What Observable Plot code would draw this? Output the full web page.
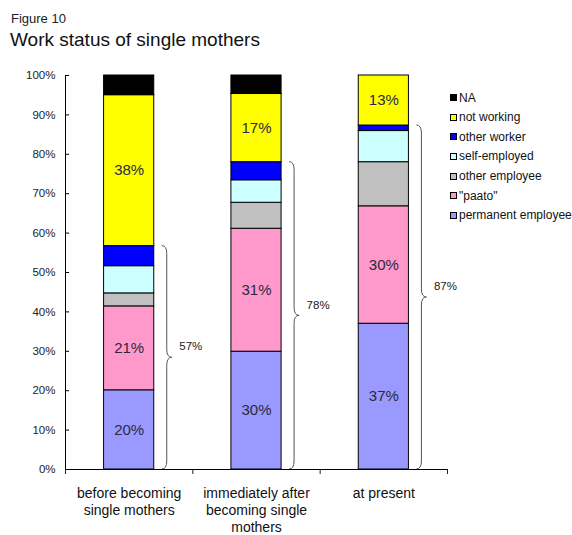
<!DOCTYPE html>
<html><head><meta charset="utf-8">
<script src="https://cdn.jsdelivr.net/npm/d3@7"></script>
<script src="https://cdn.jsdelivr.net/npm/@observablehq/plot@0.6"></script>
<style>
body{margin:0;background:#fff;font-family:Arial,"Liberation Sans",sans-serif;color:#000}
#wrap{position:relative;width:572px;height:535px;overflow:hidden;background:#fff}
.abs{position:absolute;white-space:nowrap}
.item{position:absolute;left:0;height:14px;line-height:14px;font-size:12px;display:flex;align-items:center;color:#111}
.sw{width:5px;height:5px;border:1px solid #000;margin-right:2px;flex:none}
</style></head><body>
<div id="wrap">
 <div class="abs" style="left:11px;top:12px;font-size:13px;line-height:1;color:#222">Figure 10</div>
 <div class="abs" style="left:10px;top:30px;font-size:19px;line-height:1;color:#111">Work status of single mothers</div>
 <div id="chart" class="abs" style="left:0;top:55px"></div>
 <div id="legend" class="abs" style="left:450px;top:0"></div>
</div>
<script>
// ---- data ----
const periods = ["before becoming single mothers", "immediately after becoming single mothers", "at present"];
const periodLabels = ["before becoming\nsingle mothers", "immediately after\nbecoming single\nmothers", "at present"];
const statuses = ["permanent employee", "\"paato\"", "other employee", "self-employed", "other worker", "not working", "NA"];
const colors = ["#9999FF", "#FF99CC", "#C0C0C0", "#CCFFFF", "#0000FF", "#FFFF00", "#000000"];
const permanentEmployee = [20.1, 29.9, 37.0];
const paato = [21.3, 31.2, 29.8];
const otherEmployee = [3.3, 6.6, 11.2];
const selfEmployed = [6.9, 5.7, 7.9];
const otherWorker = [5.1, 4.6, 1.4];
const notWorking = [38.3, 17.3, 12.7];
const na = [5.0, 4.7, 0.0];
const yTicks = [0, 10, 20, 30, 40, 50, 60, 70, 80, 90, 100];
const labelledStatuses = ["permanent employee", "\"paato\"", "not working"];
const workingStatuses = ["permanent employee", "\"paato\"", "other employee", "self-employed", "other worker"];

// ---- build table ----
const series = [permanentEmployee, paato, otherEmployee, selfEmployed, otherWorker, notWorking, na];
const rows = [];
periods.forEach((p, i) => {
  let acc = 0;
  statuses.forEach((s, k) => {
    const v = series[k][i];
    rows.push({i, period: p, status: s, value: v, y1: acc, y2: acc + v});
    acc += v;
  });
});
const braceRows = periods.map((p, i) => ({
  i, period: p,
  total: d3.sum(rows.filter(r => r.i === i && workingStatuses.includes(r.status)), r => r.value)
}));

const halfBar = 0.197;

function braces(index, scales) {
  const g = d3.create("svg:g").attr("fill", "none").attr("stroke", "#555").attr("stroke-width", 1);
  for (const b of braceRows) {
    const x = scales.x(b.i + 0.5 + halfBar) + 8;
    const w = 10, r = 8, xm = x + w / 2;
    const top = scales.y(b.total), bot = scales.y(0), mid = (top + bot) / 2;
    const d = `M${x},${top} Q${xm},${top} ${xm},${top + r} L${xm},${mid - r} Q${xm},${mid} ${x + w},${mid} ` +
              `Q${xm},${mid} ${xm},${mid + r} L${xm},${bot - r} Q${xm},${bot} ${x},${bot}`;
    g.append("path").attr("d", d);
  }
  return g.node();
}

const chart = Plot.plot({
  width: 572, height: 480,
  marginTop: 20, marginBottom: 66, marginLeft: 65, marginRight: 125,
  style: {fontFamily: "Arial, 'Liberation Sans', sans-serif", fontSize: "11.5px", color: "#222", background: "transparent"},
  x: {domain: [0, 3], ticks: [0, 1, 2, 3], tickFormat: () => "", tickSize: 5, label: null},
  y: {domain: [0, 100], ticks: yTicks, tickFormat: d => d + "%", tickSize: 0, tickPadding: 10, label: null},
  color: {domain: statuses, range: colors},
  marks: [
    Plot.rect(rows, {
      x1: d => d.i + 0.5 - halfBar, x2: d => d.i + 0.5 + halfBar,
      y1: "y1", y2: "y2", fill: "status", stroke: "#000", strokeWidth: 1
    }),
    Plot.text(rows.filter(d => labelledStatuses.includes(d.status)), {
      x: d => d.i + 0.5, y: d => (d.y1 + d.y2) / 2,
      text: d => Math.round(d.value) + "%", fontSize: 15, fill: "#2a2a3a"
    }),
    braces,
    Plot.text(braceRows, {
      x: d => d.i + 0.5 + halfBar, y: d => d.total / 2, dx: 25, dy: -11,
      textAnchor: "start", text: d => Math.round(d.total) + "%", fontSize: 11.5, fill: "#222"
    }),
    Plot.ruleY(yTicks, {y: d => d, x1: 0, x2: 0.032, stroke: "#000"}),
    Plot.ruleX([0], {stroke: "#000"}),
    Plot.ruleY([0], {stroke: "#000"}),
    Plot.text(periodLabels, {
      x: (d, i) => i + 0.5, y: () => 0, dy: 16, lineAnchor: "top",
      text: d => d, fontSize: 14, lineHeight: 1.22, fill: "#111"
    })
  ]
});
document.getElementById("chart").appendChild(chart);

// ---- legend ----
const legend = document.getElementById("legend");
statuses.slice().reverse().forEach((s, j) => {
  const k = statuses.indexOf(s);
  const item = document.createElement("div");
  item.className = "item";
  item.style.top = (97.5 + 19.65 * j - 7) + "px";
  const sw = document.createElement("span");
  sw.className = "sw";
  sw.style.background = colors[k];
  const t = document.createElement("span");
  t.textContent = s;
  item.appendChild(sw);
  item.appendChild(t);
  legend.appendChild(item);
});
</script>
</body></html>
